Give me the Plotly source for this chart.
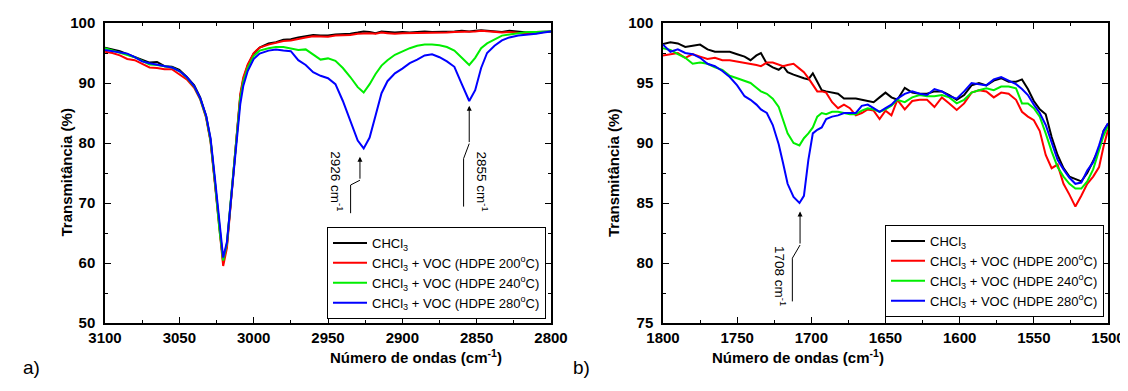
import plotly.graph_objects as go

# the page body has an 8 px margin, so the figure is drawn 8 px in and 8 px down
OFF = 8
W, H = 1128 - OFF, 391 - OFF

# ---------------- data: panel a) ----------------
wn_a = [3100, 3095, 3090, 3085, 3080, 3075, 3070, 3065, 3060, 3055, 3050, 3045, 3040,
        3036, 3032, 3029, 3026, 3023, 3020.5, 3018, 3015.5, 3013, 3011, 3009, 3007, 3004, 3000, 2996,
        2990, 2985, 2980, 2975, 2970, 2965, 2960, 2955, 2950, 2945, 2940, 2935, 2930,
        2926, 2922, 2918, 2914, 2910,
        2905, 2900, 2895, 2890, 2885, 2880, 2875, 2870, 2865, 2860, 2855,
        2851, 2847, 2843, 2838, 2833, 2828, 2822, 2816, 2810, 2805, 2800]

chcl3_a = [95.9, 95.6, 95.3, 94.8, 94.3, 93.9, 93.4, 93.5, 92.8, 92.7, 92.2, 91.0, 89.6,
           87.6, 84.5, 80.5, 73.5, 65.5, 60.1, 63.0, 70.0, 77.5, 83.5, 87.8, 90.6, 92.9, 94.9, 95.9,
           96.6, 96.8, 97.2, 97.3, 97.6, 97.8, 98.0, 97.9, 97.9, 98.1, 98.1, 98.2, 98.4,
           98.6, 98.5, 98.3, 98.6, 98.5,
           98.4, 98.5, 98.4, 98.5, 98.6, 98.5, 98.5, 98.6, 98.6, 98.7, 98.6,
           98.7, 98.8, 98.7, 98.6, 98.5, 98.7, 98.5, 98.4, 98.5, 98.6, 98.6]

voc200_a = [95.2, 95.0, 94.6, 94.0, 93.8, 93.2, 92.6, 92.5, 92.3, 92.3, 91.4, 90.6, 89.2,
            87.3, 84.2, 80.2, 73.0, 65.0, 59.5, 62.5, 69.8, 77.5, 83.8, 88.2, 90.9, 93.1, 95.0, 95.9,
            96.4, 96.7, 97.0, 97.1, 97.4, 97.6, 97.8, 97.7, 97.7, 97.9, 97.9, 98.0, 98.2,
            98.3, 98.3, 98.2, 98.4, 98.3,
            98.2, 98.3, 98.3, 98.3, 98.4, 98.4, 98.4, 98.4, 98.5, 98.5, 98.5,
            98.6, 98.7, 98.6, 98.5, 98.4, 98.5, 98.4, 98.2, 98.3, 98.5, 98.5]

voc240_a = [95.8, 95.4, 95.0, 94.6, 94.3, 93.7, 93.1, 93.0, 92.8, 92.6, 92.0, 90.9, 89.4,
            87.4, 84.4, 80.4, 73.4, 65.5, 60.4, 63.2, 70.2, 77.3, 83.2, 87.5, 90.2, 92.5, 94.5, 95.4,
            95.8, 96.0, 96.0, 95.7, 95.5, 95.6, 94.7, 93.9, 94.1, 93.7, 92.5, 91.0, 89.3,
            88.4, 89.8, 91.5, 92.9, 93.8,
            94.7, 95.3, 95.8, 96.2, 96.4, 96.4, 96.3, 96.0, 95.4, 94.2, 93.0,
            94.2, 95.8, 96.6, 97.3, 97.9, 98.1, 98.3, 98.5, 98.5, 98.6, 98.6]

voc280_a = [95.5, 95.3, 95.0, 94.9, 94.3, 93.6, 93.3, 93.1, 92.8, 92.6, 92.0, 91.0, 89.5,
            87.5, 84.6, 80.8, 74.0, 66.5, 60.9, 63.5, 70.0, 76.8, 82.5, 86.5, 89.5, 92.0, 94.0, 94.9,
            95.4, 95.6, 95.4, 95.3, 93.8, 93.0, 91.8, 91.2, 90.8, 89.8, 87.0, 83.6, 80.4,
            79.1, 80.9, 84.6, 88.3, 90.3,
            91.6, 92.4, 93.3, 93.9, 94.6, 94.8, 94.3, 93.6, 92.7, 89.8, 87.0,
            88.8, 92.5, 95.0, 96.2, 97.1, 97.6, 97.9, 98.0, 98.2, 98.4, 98.6]

# ---------------- data: panel b) ----------------
wn_b = [1800, 1795, 1790, 1785, 1780, 1775, 1770, 1765, 1760, 1755, 1750, 1745, 1741, 1737,
        1734, 1730, 1726, 1722, 1719, 1716, 1712, 1708, 1705, 1702, 1699, 1696, 1693, 1690,
        1686, 1682, 1678, 1674, 1670, 1666, 1662, 1658, 1654, 1650, 1646, 1642, 1637, 1632,
        1627, 1622, 1617, 1612, 1607, 1602, 1597, 1592, 1587, 1582, 1577, 1572, 1567, 1562,
        1558, 1554, 1550, 1546, 1542, 1538, 1534, 1530, 1526, 1522, 1518, 1514, 1510, 1506,
        1503, 1500]

chcl3_b = [98.25, 98.4, 98.3, 98.0, 98.1, 98.2, 97.8, 97.6, 97.6, 97.6, 97.4, 97.2, 96.9, 97.3,
           97.5, 96.6, 96.3, 96.1, 96.4, 95.9, 95.7, 95.5, 95.4, 95.3, 95.8, 95.1, 94.4, 94.3,
           94.2, 94.1, 93.7, 93.7, 93.7, 93.6, 93.5, 93.4, 93.8, 94.2, 93.8, 93.6, 94.6, 94.2,
           94.1, 94.1, 94.3, 94.3, 94.0, 93.6, 94.0, 94.8, 95.0, 94.8, 95.2, 95.4, 95.1, 95.1,
           95.3, 94.5, 93.5, 92.8, 92.4, 90.5, 89.0, 87.9, 87.2, 87.0, 86.8, 87.5, 88.5, 89.5,
           91.0, 91.6]

voc200_b = [97.3, 97.4, 97.5, 97.1, 97.4, 97.2, 97.0, 97.1, 96.9, 96.9, 96.8, 96.7, 96.6, 96.5,
            96.4, 96.7, 96.7, 96.5, 96.4, 96.5, 96.6, 96.2, 95.9, 95.4, 94.8, 94.3, 94.3, 94.2,
            93.4, 92.9, 93.2, 92.9, 92.3, 92.5, 92.8, 92.7, 92.0, 92.7, 92.3, 93.6, 92.8, 93.5,
            93.6, 93.6, 93.0, 93.8, 93.3, 92.75, 93.3, 94.2, 94.4, 94.3, 93.8, 94.2, 94.1, 93.6,
            92.6, 92.2, 91.9, 91.0, 89.0, 87.9, 88.2, 86.6, 85.7, 84.7, 85.6, 86.6, 87.2, 88.0,
            89.7, 91.1]

voc240_b = [97.9, 97.75, 97.4, 97.1, 96.6, 96.7, 96.6, 96.3, 96.1, 95.6, 95.4, 95.2, 95.0, 94.6,
            94.3, 94.1, 93.7, 93.0, 91.8, 90.8, 90.0, 89.8, 90.4, 90.8, 91.3, 92.2, 92.5, 92.4,
            92.6, 92.6, 92.5, 92.4, 92.4, 92.7, 92.9, 92.8, 92.6, 92.8, 93.1, 93.6, 93.4, 93.8,
            94.0, 93.9, 93.9, 94.0, 93.8, 93.3, 93.6, 94.2, 94.4, 94.55, 94.4, 94.7, 94.7, 94.55,
            93.3, 93.3, 92.9, 92.2, 90.8, 89.3, 88.0, 87.2, 86.6, 86.2, 86.2, 86.8, 87.8, 89.3,
            90.6, 91.4]

voc280_b = [98.2, 97.6, 97.8, 97.5, 97.4, 97.1, 96.6, 96.4, 96.0, 95.5, 94.8, 93.9, 93.6, 93.2,
            92.8, 92.5, 91.5, 89.9, 88.3, 86.6, 85.5, 85.0, 85.6, 88.6, 90.8, 91.1, 91.3, 92.0,
            92.2, 92.3, 92.5, 92.5, 92.5, 93.1, 93.2, 92.9, 92.6, 92.9, 93.2, 93.7, 94.1, 94.3,
            94.1, 94.0, 94.5, 94.3, 93.9, 93.7, 94.3, 95.0, 94.9, 94.8, 95.3, 95.5, 95.2, 94.9,
            94.5, 94.0, 93.2, 92.5, 91.5, 90.0, 88.6, 87.8, 87.1, 86.6, 86.7, 87.7, 88.4, 89.8,
            91.0, 91.65]

series_names = ["CHCl<sub>3</sub>",
                "CHCl<sub>3</sub> + VOC (HDPE 200<sup>o</sup>C)",
                "CHCl<sub>3</sub> + VOC (HDPE 240<sup>o</sup>C)",
                "CHCl<sub>3</sub> + VOC (HDPE 280<sup>o</sup>C)"]
series_colors = ["#000000", "#ff0000", "#00ee00", "#0000ff"]

# peak annotations: label, kinked arrow path (tail -> kink -> kink -> head)
peak_labels_a = ["2926 cm<sup>-1</sup>", "2855 cm<sup>-1</sup>"]
peak_paths_a = [[(2934.8, 68.3), (2934.8, 73.0), (2928.5, 73.8), (2928.5, 77.7)],
                [(2858.8, 69.4), (2858.8, 77.4), (2855.0, 79.9), (2855.0, 86.2)]]
peak_text_pos_a = [(2944.5, 73.6), (2846.5, 73.6)]
peak_labels_b = ["1708 cm<sup>-1</sup>"]
peak_paths_b = [[(1712.8, 76.8), (1712.8, 80.4), (1707.6, 81.5), (1707.6, 84.3)]]
peak_text_pos_b = [(1721.0, 78.9)]

FONT = "Liberation Sans, Arial, sans-serif"

fig = go.Figure()
panel_a = [chcl3_a, voc200_a, voc240_a, voc280_a]
panel_b = [chcl3_b, voc200_b, voc240_b, voc280_b]
for i in range(4):
    fig.add_trace(go.Scatter(x=wn_a, y=panel_a[i], mode="lines", name=series_names[i],
                             line=dict(color=series_colors[i], width=2),
                             xaxis="x", yaxis="y", legend="legend"))
for i in range(4):
    fig.add_trace(go.Scatter(x=wn_b, y=panel_b[i], mode="lines", name=series_names[i],
                             line=dict(color=series_colors[i], width=2),
                             xaxis="x2", yaxis="y2", legend="legend2"))

def px2paper(px, py):
    """screen pixel (page coords) -> paper coords of the figure"""
    return (px - OFF) / W, 1 - (py - OFF) / H

ydom = [1 - (323 - OFF) / H, 1 - (23 - OFF) / H]
tickfont = dict(family=FONT, size=15, color="black", weight="bold")

def xax(dom, rng, anchor):
    return dict(domain=dom, range=rng, anchor=anchor, showline=True, linecolor="black", linewidth=1.5,
                mirror="allticks", ticks="inside", ticklen=6, tickwidth=1.2, tickcolor="black",
                dtick=50, tickfont=tickfont, showgrid=False, zeroline=False, automargin=False,
                ticklabelstandoff=0,
                minor=dict(ticks="inside", ticklen=3, tickwidth=1.2, dtick=25, tickcolor="black", showgrid=False))

def yax(rng, dt, mdt, anchor):
    return dict(domain=ydom, range=rng, anchor=anchor, showline=True, linecolor="black", linewidth=1.5,
                mirror="allticks", ticks="inside", ticklen=6, tickwidth=1.2, tickcolor="black",
                dtick=dt, tickfont=tickfont, showgrid=False, zeroline=False, automargin=False,
                ticklabelstandoff=5,
                minor=dict(ticks="inside", ticklen=3, tickwidth=1.2, dtick=mdt, tickcolor="black", showgrid=False))

legend_common = dict(bgcolor="white", bordercolor="black", borderwidth=1,
                     font=dict(family=FONT, size=13, color="black"),
                     xanchor="right", yanchor="bottom", tracegroupgap=0, itemwidth=34)

annotations = []
shapes = []

def add_peaks(labels, paths, tpos, xr, yr):
    for lab, path, (tx, ty) in zip(labels, paths, tpos):
        d = "M " + " L ".join(f"{p[0]},{p[1]}" for p in path[:-1])
        shapes.append(dict(type="path", path=d, xref=xr, yref=yr, line=dict(color="black", width=1)))
        annotations.append(dict(x=path[-1][0], y=path[-1][1], ax=path[-2][0], ay=path[-2][1],
                                xref=xr, yref=yr, axref=xr, ayref=yr, showarrow=True,
                                arrowhead=2, arrowsize=1, arrowwidth=1, arrowcolor="black", text=""))
        annotations.append(dict(x=tx, y=ty, xref=xr, yref=yr, text=lab, showarrow=False, textangle=90,
                                font=dict(family=FONT, size=13.5, color="black")))

add_peaks(peak_labels_a, peak_paths_a, peak_text_pos_a, "x", "y")
add_peaks(peak_labels_b, peak_paths_b, peak_text_pos_b, "x2", "y2")

title_font = dict(family=FONT, size=15, color="black", weight="bold")
for cx in [328, 885.5]:
    x, y = px2paper(cx, 368)
    annotations.append(dict(x=x, y=y, xref="paper", yref="paper", showarrow=False,
                            text="Número de ondas (cm<sup>-1</sup>)", font=title_font))
for cx in [55, 613]:
    x, y = px2paper(cx, 173)
    annotations.append(dict(x=x, y=y, xref="paper", yref="paper", showarrow=False, textangle=-90,
                            text="Transmitância (%)", font=title_font))
for lab, cx in [("a)", 21), ("b)", 581)]:
    x, y = px2paper(cx, 380)
    annotations.append(dict(x=x, y=y, xref="paper", yref="paper", showarrow=False, text=lab,
                            font=dict(family=FONT, size=19, color="black")))

lx1, ly1 = px2paper(546, 319)
lx2, ly2 = px2paper(1104, 317)

fig.update_layout(
    width=W, height=H, margin=dict(l=0, r=0, t=0, b=0, autoexpand=False),
    paper_bgcolor="white", plot_bgcolor="white",
    xaxis=xax([(105 - OFF) / W, (551 - OFF) / W], [3100, 2800], "y"),
    yaxis=yax([50, 100], 10, 5, "x"),
    xaxis2=xax([(663 - OFF) / W, (1108 - OFF) / W], [1800, 1500], "y2"),
    yaxis2=yax([75, 100], 5, 2.5, "x2"),
    legend=dict(x=lx1, y=ly1, **legend_common),
    legend2=dict(x=lx2, y=ly2, **legend_common),
    annotations=annotations, shapes=shapes, showlegend=True,
)

fig.write_html("out.html")
